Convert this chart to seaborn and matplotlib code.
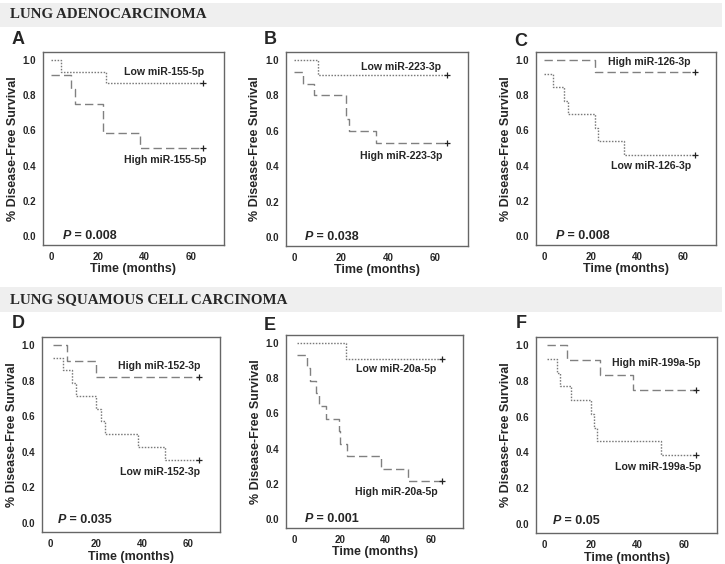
import matplotlib
matplotlib.use("Agg")
import matplotlib.pyplot as plt
import pandas as pd
import seaborn as sns
from matplotlib.patches import Rectangle

# Kaplan-Meier step curves (time in months, survival fraction)
A_LOW_T = [0, 4.4, 23.3, 65]
A_LOW_S = [1.0, 0.933, 0.867, 0.867]
A_HIGH_T = [0, 8.7, 10, 22, 38, 65]
A_HIGH_S = [0.917, 0.833, 0.75, 0.583, 0.5, 0.5]

B_LOW_T = [0, 10, 65]
B_LOW_S = [1.0, 0.917, 0.917]
B_HIGH_T = [0, 3.6, 8.6, 21.9, 23.3, 34.7, 65]
B_HIGH_S = [0.933, 0.867, 0.8, 0.667, 0.6, 0.533, 0.533]

C_HIGH_T = [0, 21.9, 65]
C_HIGH_S = [1.0, 0.929, 0.929]
C_LOW_T = [0, 4, 8.5, 10.3, 21.9, 23.3, 34.6, 65]
C_LOW_S = [0.923, 0.846, 0.769, 0.692, 0.615, 0.538, 0.462, 0.462]

D_HIGH_T = [1.4, 7.2, 20.2, 65]
D_HIGH_S = [1.0, 0.909, 0.818, 0.818]
D_LOW_T = [1.4, 5.8, 9.4, 11.3, 20.2, 22.4, 23.8, 38.2, 50, 65]
D_LOW_S = [0.929, 0.857, 0.786, 0.714, 0.643, 0.571, 0.5, 0.429, 0.357, 0.357]

E_LOW_T = [1.4, 22.6, 65]
E_LOW_S = [1.0, 0.909, 0.909]
E_HIGH_T = [1.4, 5.7, 6.9, 9.6, 11.1, 14, 19.6, 20.1, 23.3, 38.1, 50, 65]
E_HIGH_S = [0.929, 0.857, 0.786, 0.714, 0.643, 0.571, 0.5, 0.429, 0.357, 0.286, 0.214, 0.214]

F_HIGH_T = [1.1, 9.9, 24, 37.9, 65]
F_HIGH_S = [1.0, 0.917, 0.833, 0.75, 0.75]
F_LOW_T = [1.1, 5.6, 6.8, 11.3, 20.2, 21.3, 22.7, 49.9, 65]
F_LOW_S = [0.923, 0.846, 0.769, 0.692, 0.615, 0.538, 0.462, 0.385, 0.385]

PANEL_LETTERS = ["A", "B", "C", "D", "E", "F"]
MIRNAS = ["miR-155-5p", "miR-223-3p", "miR-126-3p", "miR-152-3p", "miR-20a-5p", "miR-199a-5p"]
P_VALUES = ["0.008", "0.038", "0.008", "0.035", "0.001", "0.05"]
HEADERS = ["LUNG ADENOCARCINOMA", "LUNG SQUAMOUS CELL CARCINOMA"]
X_TICKS = [0, 20, 40, 60]
Y_TICKS = [0.0, 0.2, 0.4, 0.6, 0.8, 1.0]

curves = [
    (A_LOW_T, A_LOW_S, A_HIGH_T, A_HIGH_S),
    (B_LOW_T, B_LOW_S, B_HIGH_T, B_HIGH_S),
    (C_LOW_T, C_LOW_S, C_HIGH_T, C_HIGH_S),
    (D_LOW_T, D_LOW_S, D_HIGH_T, D_HIGH_S),
    (E_LOW_T, E_LOW_S, E_HIGH_T, E_HIGH_S),
    (F_LOW_T, F_LOW_S, F_HIGH_T, F_HIGH_S),
]

# label placement (x right edge, y) for Low / High, then p-value position
label_pos = [
    ((65.5, 0.93), (66.5, 0.435), 5.0, 0.0),
    ((62.5, 0.96), (63.0, 0.456), 4.3, 0.0),
    ((63.5, 0.396), (63.0, 0.99), 5.0, 0.0),
    ((65.5, 0.289), (65.5, 0.883), 3.5, 0.017),
    ((62.5, 0.854), (63.0, 0.152), 4.6, 0.0),
    ((67.0, 0.32), (67.0, 0.902), 3.8, 0.015),
]

# axes rectangles in pixels (left, top, width, height)
W, H = 725, 564
rects_px = [
    (43, 52, 181, 193), (286, 52, 182, 194), (536, 52, 180, 193),
    (42, 337, 178, 195), (286, 335, 177, 193), (536, 337, 181, 196),
]
letter_px = [(18, 40), (270, 40), (521, 42), (18, 323), (270, 325), (521, 324)]

sns.set_theme(style="white")
plt.rcParams["font.family"] = ["Liberation Sans", "DejaVu Sans"]

fig = plt.figure(figsize=(W / 100, H / 100), dpi=100)
fig.patch.set_facecolor("white")

# section header bands
for (y0, y1), txt in zip([(3, 27), (287, 312)], HEADERS):
    fig.patches.append(Rectangle((0, 1 - y1 / H), 722 / W, (y1 - y0) / H,
                                 transform=fig.transFigure, facecolor="#efefef",
                                 edgecolor="none", zorder=0))
    fig.text(10 / W, 1 - (y0 + y1) / 2 / H, txt, family="Liberation Serif",
             fontweight="bold", fontsize=10.8, va="center", ha="left")

for i, (lt, ls, ht, hs) in enumerate(curves):
    l, t, w, h = rects_px[i]
    ax = fig.add_axes([l / W, 1 - (t + h) / H, w / W, h / H])

    df = pd.concat([
        pd.DataFrame({"time": lt, "surv": ls, "group": "Low"}),
        pd.DataFrame({"time": ht, "surv": hs, "group": "High"}),
    ])
    sns.lineplot(data=df, x="time", y="surv", hue="group", style="group",
                 palette={"Low": "#7a7a7a", "High": "#808080"},
                 dashes={"Low": (1.1, 1.1), "High": (6, 3)},
                 drawstyle="steps-post", estimator=None, linewidth=1.0,
                 legend=False, ax=ax)
    ends = df.groupby("group").tail(1)
    sns.scatterplot(data=ends, x="time", y="surv", marker="+", color="#222222",
                    s=18, linewidth=0.9, legend=False, ax=ax, zorder=5)

    (lx, ly), (hx, hy), px, py = label_pos[i]
    ax.text(lx, ly, f"Low {MIRNAS[i]}", ha="right", va="center",
            fontsize=7.6, fontweight="bold")
    ax.text(hx, hy, f"High {MIRNAS[i]}", ha="right", va="center",
            fontsize=7.6, fontweight="bold")
    p_txt = ax.text(px, py, "P", ha="left", va="center", fontsize=9,
                    fontweight="bold", fontstyle="italic")
    ax.annotate(f" = {P_VALUES[i]}", xy=(1, 0.5), xycoords=p_txt,
                ha="left", va="center", fontsize=9, fontweight="bold")

    ax.set_xlim(-3.5, 74)
    ax.set_ylim(-0.05, 1.045)
    ax.set_xticks(X_TICKS)
    ax.set_yticks(Y_TICKS)
    ax.set_yticklabels([f"{v:.1f}" for v in Y_TICKS])
    ax.tick_params(axis="both", direction="out", length=3, width=0.8,
                   color="#555555", labelsize=7, pad=2)
    for lab in ax.get_xticklabels() + ax.get_yticklabels():
        lab.set_fontweight("bold")
    for sp in ax.spines.values():
        sp.set_color("#666666")
        sp.set_linewidth(1.0)
    ax.set_xlabel("Time (months)", fontsize=9, fontweight="bold")
    ax.set_ylabel("% Disease-Free Survival", fontsize=9, fontweight="bold")
    ax.xaxis.set_label_coords(0.5, -0.095)
    ax.yaxis.set_label_coords(-0.135, 0.5)

    lx_px, ly_px = letter_px[i]
    fig.text(lx_px / W, 1 - ly_px / H, PANEL_LETTERS[i], fontsize=13,
             fontweight="bold", ha="center", va="center")

fig.savefig("out.png", dpi=100)
